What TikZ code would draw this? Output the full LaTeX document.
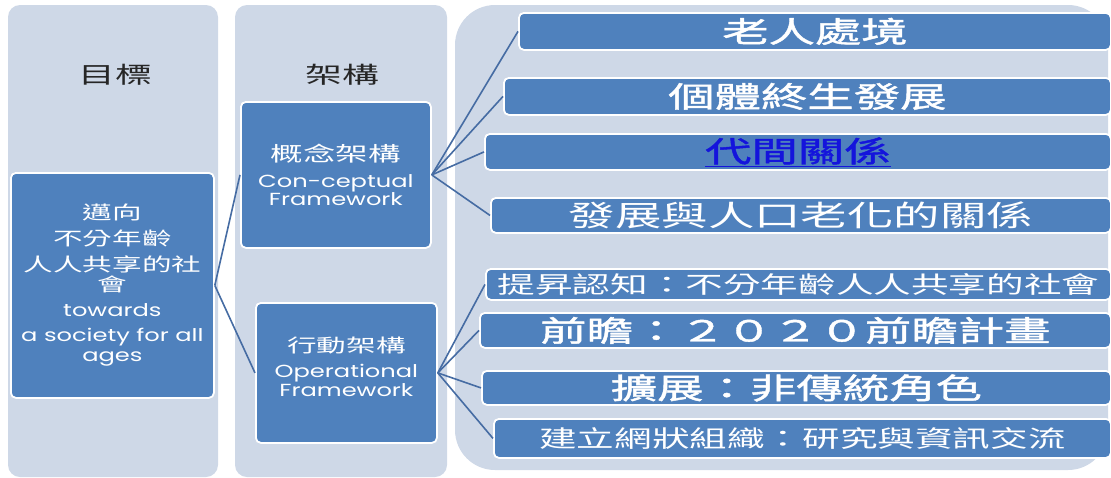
\documentclass[tikz,border=0pt]{standalone}
\usepackage{fontspec}
\newfontfamily\cjk[FakeStretch=1.6]{Noto Sans CJK TC}
\newfontfamily\cjkmid[FakeStretch=1.6,FakeBold=1.5]{Noto Sans CJK TC}
\newfontfamily\latin[FakeStretch=1.38]{Poppins}
\definecolor{colbg}{RGB}{206,216,231}
\definecolor{boxblue}{RGB}{79,129,189}
\definecolor{linkline}{RGB}{70,108,163}
\definecolor{hyper}{RGB}{20,20,220}
\tikzset{
  column/.style={fill=colbg, rounded corners=12pt},
  bluebox/.style={draw=white, line width=1.8pt, fill=boxblue, rounded corners=5pt,
    text=white, anchor=north west, inner sep=0pt, align=center},
  branch/.style={draw=linkline, line width=1.6pt},
  bigcjk/.style={font=\cjk\fontsize{29}{32}\selectfont},
  midcjk/.style={font=\cjkmid\fontsize{29}{32}\selectfont},
  smallcjk/.style={font=\cjk\fontsize{23.5}{26}\selectfont},
}
\newcommand\eng[1]{{\latin\fontsize{17.5}{19}\selectfont #1}}
\begin{document}
\begin{tikzpicture}[x=1pt,y=-1pt]
\useasboundingbox (0,0) rectangle (1111,477);
% background columns
\fill[column] (8,5) rectangle (218,477);
\fill[column] (235,5) rectangle (447,477);
\fill[column, rounded corners=40pt] (455,5) rectangle (1108,470);
% column heads
\node[font=\cjk\fontsize{23}{26}\selectfont, text=black!85] (goalhead) at (115,75) {目標};
\node[font=\cjk\fontsize{23}{26}\selectfont, text=black!85] (framehead) at (342,75) {架構};
% goal
\node[bluebox, minimum width=203pt, minimum height=225pt, font=\fontsize{18.5}{20}\selectfont] (goal) at (10,172)
  {{\cjk 邁向}\\[6pt] {\cjk 不分年齡}\\[6pt] {\cjk 人人共享的社}\\ {\cjk 會}\\[5pt]
   \eng{towards}\\[5pt] \eng{a society for all}\\ \eng{ages}};
% frameworks
\node[bluebox, minimum width=190pt, minimum height=146pt] (concept) at (240,101)
  {\rule{0pt}{16pt}{\cjk\fontsize{20.3}{22}\selectfont 概念架構}\\[10pt]
   \eng{Con-ceptual}\\ \eng{Framework}};
\node[bluebox, minimum width=181pt, minimum height=140pt] (oper) at (255,302)
  {{\cjk\fontsize{18.5}{20}\selectfont 行動架構}\\[9pt]
   \eng{Operational}\\ \eng{Framework\rule[-12pt]{0pt}{0pt}}};
% conceptual items
\node[bluebox, midcjk, minimum width=592pt, minimum height=37pt] (c1) at (518,12) {老人處境};
\node[bluebox, midcjk, minimum width=607pt, minimum height=37pt] (c2) at (503,77) {個體終生發展};
\node[bluebox, midcjk, minimum width=626pt, minimum height=36pt] (c3) at (484,133)
  {\color{hyper}\underline{代間關係}};
\node[bluebox, bigcjk, minimum width=620pt, minimum height=35pt] (c4) at (490,197) {發展與人口老化的關係};
% operational items
\node[bluebox, smallcjk, minimum width=625pt, minimum height=31pt] (o1) at (485,268) {提昇認知：不分年齡人人共享的社會};
\node[bluebox, midcjk, minimum width=631pt, minimum height=35pt] (o2) at (479,312) {前瞻：２０２０前瞻計畫};
\node[bluebox, midcjk, minimum width=629pt, minimum height=34pt] (o3) at (481,370) {擴展：非傳統角色};
\node[bluebox, smallcjk, minimum width=617pt, minimum height=39pt] (o4) at (493,418) {建立網狀組織：研究與資訊交流};
% connectors
\draw[branch] (goal.east) -- (concept.west);
\draw[branch] (goal.east) -- (oper.west);
\foreach \item in {c1,c2,c3,c4}
  \draw[branch] (concept.east) -- (\item.west);
\foreach \item in {o1,o2,o3,o4}
  \draw[branch] (oper.east) -- (\item.west);
\end{tikzpicture}
\end{document}
